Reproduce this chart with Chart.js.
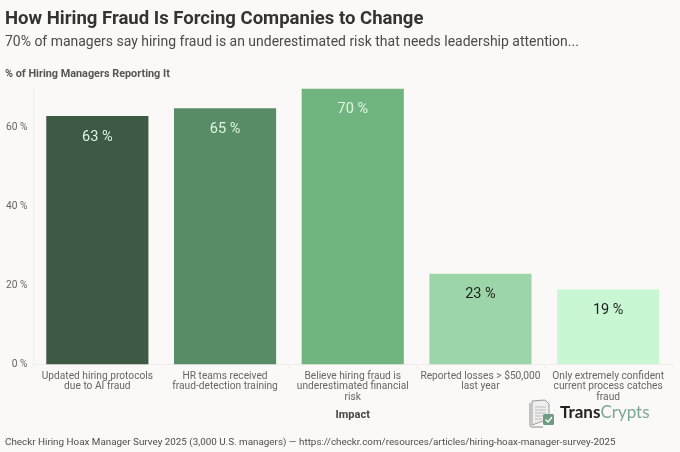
<!DOCTYPE html>
<html>
<head>
<meta charset="utf-8">
<script src="https://cdn.jsdelivr.net/npm/chart.js@4/dist/chart.umd.min.js"></script>
<style>
  html, body { margin: 0; padding: 0; background: #faf9f7; }
  body { position: relative; width: 680px; height: 452px; overflow: hidden; font-family: Roboto, sans-serif; }
  canvas { position: absolute; left: 0; top: 0; }
  .txt { position: absolute; white-space: nowrap; }
  #title { left: 5px; top: 5px; font-size: 18.55px; line-height: 26px; font-weight: 700; color: #333; }
  #subtitle { left: 5px; top: 31px; font-size: 13.97px; line-height: 20px; color: #4a4a4a; }
  #ytitle { left: 5px; top: 67px; font-size: 10.85px; line-height: 14px; font-weight: 700; color: #555; }
  #source { left: 5px; top: 435px; font-size: 9.85px; line-height: 14px; color: #4d4d4d; }
  #logo { left: 560px; top: 400px; font-family: Lato, sans-serif; font-size: 17px; line-height: 24px; font-weight: 700; color: #222; }
  #logo span { color: #7ba893; font-weight: 400; }
  #icon { position: absolute; left: 528px; top: 398px; }
</style>
</head>
<body>
<canvas id="chart" width="680" height="452"></canvas>
<div class="txt" id="title">How Hiring Fraud Is Forcing Companies to Change</div>
<div class="txt" id="subtitle">70% of managers say hiring fraud is an underestimated risk that needs leadership attention...</div>
<div class="txt" id="ytitle">% of Hiring Managers Reporting It</div>
<div class="txt" id="source">Checkr Hiring Hoax Manager Survey 2025 (3,000 U.S. managers) — https://checkr.com/resources/articles/hiring-hoax-manager-survey-2025</div>
<svg id="icon" width="30" height="30" viewBox="0 0 30 30">
  <path d="M2 5 L2 27 Q2 29 4 29 L15 29" fill="none" stroke="#888" stroke-width="1"/>
  <path d="M4 3 L17 2 L21 6 L21 21 L4 27 Z" fill="#eee" stroke="#999" stroke-width="1"/>
  <path d="M7 9h11M7 12h11M7 15h11M7 18h9M7 21h7" stroke="#bbb" stroke-width="1"/>
  <rect x="15" y="16" width="11" height="11" rx="1.5" fill="#6f9a84"/>
  <path d="M17.5 21.5l2.5 2.5 4-5" fill="none" stroke="#fff" stroke-width="1.4"/>
</svg>
<div class="txt" id="logo">Trans<span>Crypts</span></div>
<script>
// values
const categories = [
    ['Updated hiring protocols', 'due to AI fraud'],
    ['HR teams received', 'fraud-detection training'],
    ['Believe hiring fraud is', 'underestimated financial', 'risk'],
    ['Reported losses > $50,000', 'last year'],
    ['Only extremely confident', 'current process catches', 'fraud']
];
const values = [63, 65, 70, 23, 19];
const barColors = ['#3d5a45', '#588c66', '#70b580', '#9bd5a8', '#c9f7d3'];
const labelColors = ['#dff5e3', '#dff5e3', '#dff5e3', '#1f1f1f', '#1f1f1f'];
const yTicks = [0, 20, 40, 60];

// value labels sit a fixed distance under the top of each bar
const barLabels = {
    id: 'barLabels',
    afterDatasetsDraw(chart) {
        const ctx = chart.ctx;
        const bars = chart.getDatasetMeta(0).data;
        ctx.save();
        ctx.font = '14.5px Roboto, sans-serif';
        ctx.textAlign = 'center';
        ctx.textBaseline = 'middle';
        bars.forEach((bar, i) => {
            ctx.fillStyle = labelColors[i];
            ctx.fillText(values[i] + ' %', bar.x, bar.y + 21);
        });
        ctx.restore();
    }
};

new Chart(document.getElementById('chart').getContext('2d'), {
    type: 'bar',
    data: {
        labels: categories,
        datasets: [{
            data: values,
            backgroundColor: barColors,
            barPercentage: 0.8,
            categoryPercentage: 1
        }]
    },
    options: {
        responsive: false,
        animation: false,
        layout: { padding: { top: 88.5, right: 8, bottom: 30, left: 0 } },
        plugins: {
            legend: { display: false },
            title: { display: false },
            tooltip: { enabled: false }
        },
        scales: {
            x: {
                grid: { color: '#f0efec', drawOnChartArea: false, tickLength: 4 },
                border: { color: '#efeeeb' },
                ticks: { color: '#666', font: { size: 10.2, family: 'Roboto, sans-serif', lineHeight: 1 }, maxRotation: 0, autoSkip: false, padding: 3 },
                title: { display: true, text: 'Impact', color: '#444', font: { size: 11, weight: 'bold', family: 'Roboto, sans-serif' }, padding: { top: 0, bottom: 0 } },
                afterFit(axis) { axis.height = 57.5; }
            },
            y: {
                min: 0,
                max: 70,
                grid: { display: false, drawTicks: false },
                border: { color: '#f0efec' },
                ticks: { color: '#666', font: { size: 10.2, family: 'Roboto, sans-serif' }, padding: 6, callback: v => v + ' %' },
                afterBuildTicks(axis) { axis.ticks = yTicks.map(v => ({ value: v })); },
                afterFit(axis) { axis.width = 33.5; }
            }
        }
    },
    plugins: [barLabels]
});
</script>
</body>
</html>
